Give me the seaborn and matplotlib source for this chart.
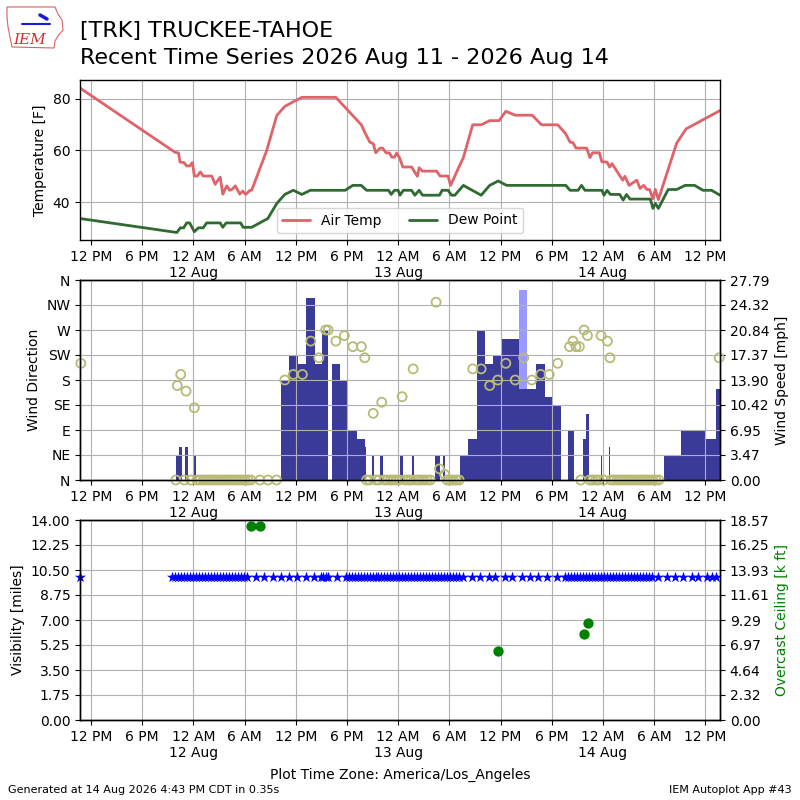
import numpy as np
import matplotlib
matplotlib.use("Agg")
import matplotlib.pyplot as plt
import seaborn as sns
from matplotlib.patches import Polygon
from matplotlib.lines import Line2D

# ---------------- data (time = hours since 2026-08-12 00:00 PDT) ----------------
temp_h = [-13.28, -2.15, -1.73, -1.56, -1.09, -0.78, -0.43, -0.11, 0.12, 0.46, 0.82, 1.16, 2.16, 2.56,
          3.15, 3.45, 3.91, 4.25, 4.55, 4.93, 5.44, 5.79, 6.14, 6.64, 6.84, 8.6, 9.78, 10.72, 11.72,
          12.72, 16.7, 19.69, 20.09, 20.68, 21.08, 21.38, 21.88, 22.18, 22.58, 22.98, 23.27, 23.57,
          23.83, 24.22, 24.54, 25.57, 26.26, 26.46, 26.86, 28.51, 28.91, 29.85, 30.15, 31.04, 31.64,
          32.74, 33.73, 34.73, 35.83, 36.62, 37.72, 39.71, 40.81, 42.7, 43.65, 44.14, 44.49, 44.84,
          46.09, 46.48, 46.78, 47.58, 47.88, 48.48, 48.78, 49.07, 49.57, 50.32, 50.57, 51.07, 51.96,
          52.36, 52.76, 53.16, 53.46, 53.86, 54.15, 54.5, 56.64, 57.74, 61.72]
temp_f = [84.1, 59.3, 59.0, 55.5, 55.3, 54.0, 54.0, 55.3, 50.1, 50.1, 51.7, 50.1, 50.1, 46.9,
          49.7, 43.1, 46.3, 44.6, 45.0, 46.3, 43.1, 44.3, 43.0, 44.6, 44.6, 60.0, 73.5, 77.0, 78.8,
          80.5, 80.5, 69.9, 67.0, 63.2, 62.6, 59.1, 60.9, 60.9, 59.1, 59.0, 57.4, 57.4,
          59.0, 56.8, 53.6, 53.6, 50.0, 53.3, 52.0, 52.0, 50.1, 50.1, 46.5, 53.0, 57.2,
          69.9, 69.9, 71.5, 71.5, 75.1, 73.6, 73.6, 69.9, 69.9, 66.4, 63.2, 63.0, 60.9,
          60.9, 57.2, 59.1, 59.1, 55.6, 55.5, 53.6, 54.9, 52.3, 48.5, 50.0, 46.5, 48.5,
          45.3, 46.5, 44.9, 44.9, 41.4, 44.9, 41.0, 62.8, 68.3, 75.4]

dew_h = [-13.28, -1.93, -1.53, -1.13, -0.78, -0.43, 0.12, 0.59, 1.16, 1.56, 3.15, 3.45, 3.85, 5.54,
         5.84, 6.84, 8.73, 9.78, 10.72, 11.72, 12.72, 13.71, 17.8, 18.69, 19.69, 20.29, 22.88, 23.18,
         23.57, 24.0, 24.22, 24.61, 25.57, 25.96, 26.46, 26.86, 28.85, 29.15, 29.85, 30.25, 30.65,
         31.64, 33.73, 34.73, 35.73, 36.72, 43.65, 44.14, 45.09, 45.49, 45.89, 47.88, 48.13, 48.48,
         48.88, 49.97, 50.37, 50.77, 51.17, 53.56, 53.86, 54.15, 54.5, 55.65, 56.64, 57.64, 58.74,
         59.73, 60.73, 61.72]
dew_f = [33.7, 28.3, 30.1, 30.1, 32.0, 32.0, 28.6, 30.1, 30.1, 32.0, 32.0, 30.3, 32.0, 32.0,
         30.3, 30.3, 33.7, 39.5, 43.0, 44.6, 43.0, 44.6, 44.6, 46.5, 46.5, 44.6, 44.6, 43.0,
         44.6, 44.6, 42.7, 44.6, 44.6, 42.7, 44.6, 42.7, 42.7, 44.6, 44.6, 42.7, 42.7,
         46.5, 42.7, 46.5, 48.2, 46.5, 46.5, 44.6, 44.6, 46.5, 44.6, 44.6, 42.7, 44.6,
         43.0, 43.0, 40.8, 43.0, 41.2, 41.2, 37.6, 39.5, 37.6, 44.9, 44.9, 46.5, 46.5,
         44.6, 44.6, 42.7]

# wind speed periods (start hour, end hour, mph)
wind_start = [-2.03, -1.68, -0.97, 0.0, 10.28, 11.22, 12.22, 13.21, 14.26, 15.11, 16.3, 17.2, 18.17,
              19.14, 20.09, 20.98, 21.88, 24.27, 25.57, 28.35, 29.3, 31.24, 32.24, 33.23, 34.13,
              35.13, 36.22, 38.22, 39.12, 40.11, 41.26, 42.0, 43.87, 45.64, 45.99, 47.78, 48.72,
              55.15, 57.14, 60.13, 61.23]
wind_end = [-1.68, -1.33, -0.66, 0.26, 11.22, 12.22, 13.21, 14.26, 15.11, 15.8, 17.2, 18.17, 19.14,
            20.09, 20.29, 21.23, 22.23, 24.57, 25.86, 28.95, 29.55, 32.24, 33.23, 34.13, 35.13,
            36.22, 38.22, 39.12, 40.11, 41.26, 42.0, 43.1, 44.59, 45.99, 46.34, 47.88, 48.88,
            57.14, 60.13, 61.23, 61.72]
wind_mph = [3.45, 4.6, 4.6, 3.45, 13.8, 17.3, 16.1, 25.3, 16.1, 20.7, 16.1, 13.8, 6.9,
            5.75, 4.6, 3.45, 3.45, 3.45, 3.45, 3.45, 3.45, 3.45, 5.75, 20.7, 16.1,
            17.3, 19.6, 12.66, 12.66, 16.1, 11.5, 10.36, 6.9, 5.75, 9.2, 3.45, 4.6,
            3.45, 6.9, 5.75, 12.66]
gust_start = [38.22]
gust_end = [39.12]
gust_mph = [26.47]

dir_h = [-13.18, -1.88, -1.48, -0.85, 0.12, 10.72, 11.72, 12.78, 13.76, 14.71, 15.5, 15.8, 16.7,
         17.7, 18.69, 19.69, 20.09, 21.08, 22.08, 24.47, 25.76, 28.45, 28.85, 29.45, 32.74, 33.73,
         34.73, 35.68, 36.62, 37.72, 38.71, 39.66, 40.71, 41.7, 42.7, 44.09, 44.49, 44.84, 45.24,
         45.79, 46.19, 47.78, 48.53, 48.83, 61.62]
dir_deg = [210, 170, 190, 160, 130, 180, 190, 190, 250, 220, 270, 270, 250,
           260, 240, 240, 220, 120, 140, 150, 200, 320, 20, 10, 200, 200,
           170, 180, 210, 180, 220, 180, 190, 190, 210, 240, 250, 240, 240,
           270, 260, 260, 250, 220, 220]
calm_h = [-2.05, -1.05, -0.3, 0.45, 0.8, 1.15, 1.5, 1.85, 2.2, 2.55, 2.9, 3.25, 3.6, 3.95, 4.3, 4.65,
          5.0, 5.35, 5.7, 6.05, 6.4, 6.75, 7.8, 8.75, 9.75,
          20.3, 20.65, 21.4, 21.75, 22.4, 22.75, 23.1, 23.45, 23.8, 24.15, 24.85, 25.2, 25.5, 26.0,
          26.35, 26.7, 27.05, 27.4, 27.75, 29.75, 30.1, 30.45, 30.8, 31.15,
          45.4, 46.45, 46.8, 47.15, 47.5, 48.1, 48.95, 49.3, 49.65, 50.0, 50.35, 50.7, 51.05, 51.4,
          51.75, 52.1, 52.45, 52.8, 53.15, 53.5, 53.85, 54.2, 54.55]

vis_h = [-13.28,
         -2.45, -2.1, -1.75, -1.4, -1.05, -0.7, -0.35, 0.0, 0.35, 0.7, 1.05, 1.4, 1.75, 2.1, 2.45,
         2.8, 3.15, 3.5, 3.85, 4.2, 4.55, 4.9, 5.25, 5.6, 5.95, 6.3,
         7.35, 8.3, 9.3, 10.25, 11.2, 12.2, 13.2, 14.15,
         15.0, 15.25, 15.5, 15.8, 16.8, 17.85, 18.2,
         18.55, 18.9, 19.25, 19.6, 19.95, 20.3, 20.65, 21.0, 21.35, 21.7, 22.05, 22.4, 22.75, 23.1,
         23.45, 23.8, 24.15, 24.5, 24.85, 25.2, 25.55, 25.9, 26.25, 26.6, 26.95, 27.3, 27.65, 28.0,
         28.35, 28.7, 29.05, 29.4, 29.75, 30.1, 30.45, 30.8, 31.15,
         31.65, 32.6, 33.6, 34.6, 35.4, 36.5, 37.4, 38.5, 39.5, 40.4, 41.4, 42.6, 43.6,
         43.95, 44.3, 44.65, 45.0, 45.35, 45.7, 46.05, 46.4, 46.75, 47.1, 47.45, 47.8, 48.15, 48.5,
         48.85, 49.2, 49.55, 49.9, 50.25, 50.6, 50.95, 51.3, 51.65, 52.0, 52.35, 52.7, 53.05, 53.4,
         53.75,
         54.5, 55.5, 56.45, 57.4, 58.4, 59.2, 60.2, 60.75, 61.3]
vis_mile = 10.0

ceil_h = [6.76, 7.85, 35.74, 45.79, 46.22]
ceil_kft = [18.0, 18.0, 6.4, 8.0, 9.0]

tick_h = [-12, -6, 0, 6, 12, 18, 24, 30, 36, 42, 48, 54, 60]
tick_labels = ["12 PM", "6 PM", "12 AM\n12 Aug", "6 AM", "12 PM", "6 PM", "12 AM\n13 Aug", "6 AM",
               "12 PM", "6 PM", "12 AM\n14 Aug", "6 AM", "12 PM"]
dir_labels = ["N", "NE", "E", "SE", "S", "SW", "W", "NW", "N"]
x_range = (-13.28, 61.72)
speed_max = 27.791
ceil_max = 18.574

# ---------------- style ----------------
sns.set_theme(style="ticks", rc={
    "font.family": ["DejaVu Sans"],
    "axes.labelsize": 10, "xtick.labelsize": 10, "ytick.labelsize": 10, "legend.fontsize": 10,
    "axes.edgecolor": "black", "axes.linewidth": 1.0, "text.color": "black",
    "axes.labelcolor": "black", "xtick.color": "black", "ytick.color": "black",
    "xtick.major.size": 3.5, "ytick.major.size": 3.5, "xtick.major.width": 0.8,
    "ytick.major.width": 0.8, "grid.color": "#b0b0b0", "grid.linewidth": 0.8,
})

fig = plt.figure(figsize=(8, 8), dpi=100)


def style_x(ax):
    ax.set_xlim(*x_range)
    ax.set_xticks(tick_h)
    ax.set_xticklabels(tick_labels)
    ax.set_xlabel("")


# ---- top: temperatures
ax1 = fig.add_axes([0.1, 0.7, 0.8, 0.2])
sns.lineplot(x=temp_h, y=temp_f, ax=ax1, color="#e0636a", lw=2, label="Air Temp", estimator=None)
sns.lineplot(x=dew_h, y=dew_f, ax=ax1, color="#2f6b31", lw=2, label="Dew Point", estimator=None)
ax1.set_ylim(25.4, 87.2)
ax1.set_yticks([40, 60, 80])
ax1.set_ylabel("Temperature [F]")
ax1.grid(True)
style_x(ax1)
ax1.legend(loc="lower center", ncol=2)

# ---- middle: wind
axd = fig.add_axes([0.1, 0.4, 0.8, 0.25])
axs = axd.twinx()
gs = np.array(gust_start); ge = np.array(gust_end)
axs.bar(gs, gust_mph, width=ge - gs, align="edge", color="#9999ff", linewidth=0)
ws = np.array(wind_start); we = np.array(wind_end)
axs.bar(ws, wind_mph, width=we - ws, align="edge", color="#3a3a98", linewidth=0)
axs.set_ylim(0, speed_max)
axs.set_yticks(np.linspace(0, speed_max, 9))
axs.set_yticklabels(["%.2f" % v for v in np.linspace(0, speed_max, 9)])
axs.set_ylabel("Wind Speed [mph]")
axs.grid(False)

sns.scatterplot(x=dir_h, y=dir_deg, ax=axd, s=42, clip_on=False)
sns.scatterplot(x=calm_h, y=[0] * len(calm_h), ax=axd, s=42, clip_on=False)
for coll in axd.collections:
    coll.set_facecolor("none")
    coll.set_edgecolor("#b8ba76")
    coll.set_linewidth(1.3)
axd.set_ylim(0, 360)
axd.set_yticks(range(0, 361, 45))
axd.set_yticklabels(dir_labels)
axd.set_ylabel("Wind Direction")
axd.grid(True)
style_x(axd)
axd.set_zorder(axs.get_zorder() + 1)
axd.patch.set_visible(False)

# ---- bottom: visibility and ceiling
axv = fig.add_axes([0.1, 0.1, 0.8, 0.25])
axc = axv.twinx()
sns.scatterplot(x=vis_h, y=[vis_mile] * len(vis_h), ax=axv, marker="*", color="blue", s=70,
                linewidth=0, clip_on=False)
axv.set_ylim(0, 14)
axv.set_yticks(np.linspace(0, 14, 9))
axv.set_yticklabels(["%.2f" % v for v in np.linspace(0, 14, 9)])
axv.set_ylabel("Visibility [miles]")
axv.grid(True)
style_x(axv)
sns.scatterplot(x=ceil_h, y=ceil_kft, ax=axc, color="green", s=55, linewidth=0, clip_on=False)
axc.set_ylim(0, ceil_max)
axc.set_yticks(np.linspace(0, ceil_max, 9))
axc.set_yticklabels(["%.2f" % v for v in np.linspace(0, ceil_max, 9)])
axc.set_ylabel("Overcast Ceiling [k ft]", color="green")
axc.grid(False)
style_x(axc)

# ---- titles and footer
fig.text(0.1, 1 - 37 / 800, "[TRK] TRUCKEE-TAHOE", fontsize=16, va="baseline")
fig.text(0.1, 1 - 64 / 800, "Recent Time Series 2026 Aug 11 - 2026 Aug 14", fontsize=16, va="baseline")
fig.text(0.5, 1 - 779 / 800, "Plot Time Zone: America/Los_Angeles", fontsize=10, ha="center", va="baseline")
fig.text(0.01, 1 - 793 / 800, "Generated at 14 Aug 2026 4:43 PM CDT in 0.35s", fontsize=8, va="baseline")
fig.text(0.99, 1 - 793 / 800, "IEM Autoplot App #43", fontsize=8, ha="right", va="baseline")

# ---- IEM logo (approximation)
outline_px = [(7, 7), (55, 7), (58, 14), (62, 20), (63, 30), (58, 36), (55, 41), (54, 48),
              (12, 47), (10, 37), (8, 27), (7, 17)]
logo = Polygon([(x / 800, 1 - y / 800) for x, y in outline_px], closed=True, fill=False,
               edgecolor="#e06060", linewidth=0.8, transform=fig.transFigure)
fig.patches.append(logo)
fig.lines.append(Line2D([22 / 800, 50 / 800], [1 - 24 / 800, 1 - 24 / 800], color="#1a1ad0",
                        linewidth=1.5, transform=fig.transFigure))
fig.lines.append(Line2D([40 / 800, 47 / 800], [1 - 15 / 800, 1 - 19 / 800], color="#1a1ad0",
                        linewidth=2.5, transform=fig.transFigure))
fig.text(30 / 800, 1 - 44 / 800, "IEM", fontsize=11, color="#d03030", style="italic",
         family="DejaVu Serif", ha="center", va="baseline")

fig.savefig("out.png", dpi=100)
